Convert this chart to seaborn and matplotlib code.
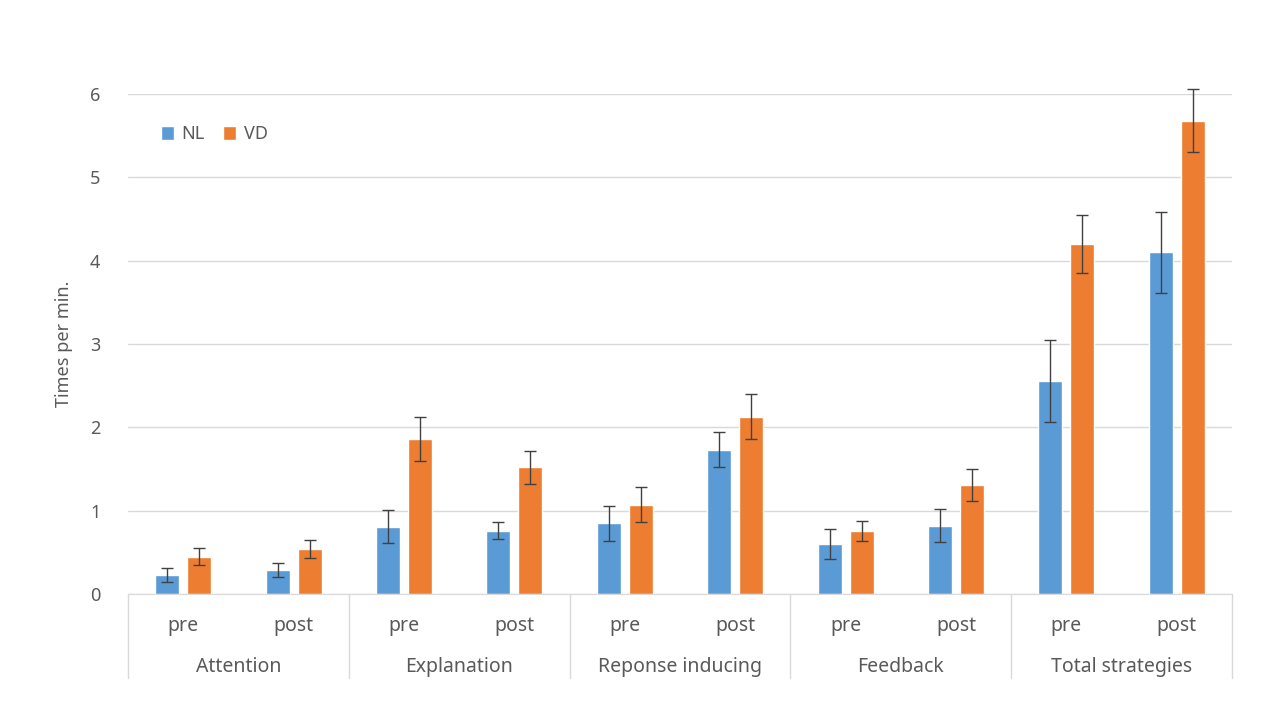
import numpy as np
import pandas as pd
import matplotlib
matplotlib.use("Agg")
import matplotlib.pyplot as plt
import matplotlib.transforms as mtransforms
import seaborn as sns

strategies = ["Attention", "Explanation", "Reponse inducing", "Feedback", "Total strategies"]
phases = ["pre", "post"]
groups = ["NL", "VD"]

nl_mean = [0.23, 0.29, 0.81, 0.76, 0.85, 1.73, 0.60, 0.82, 2.56, 4.10]
vd_mean = [0.45, 0.54, 1.86, 1.52, 1.07, 2.13, 0.76, 1.31, 4.20, 5.68]
nl_err = [0.08, 0.08, 0.20, 0.10, 0.21, 0.21, 0.18, 0.20, 0.49, 0.49]
vd_err = [0.10, 0.11, 0.26, 0.20, 0.21, 0.27, 0.12, 0.19, 0.35, 0.38]

colors = {"NL": "#5B9BD5", "VD": "#ED7D31"}
text_col = "#595959"
grid_col = "#D9D9D9"

# long table, one row per bar
slots = [f"{s}|{p}" for s in strategies for p in phases]
df = pd.DataFrame({
    "slot": slots * 2,
    "group": ["NL"] * len(slots) + ["VD"] * len(slots),
    "value": nl_mean + vd_mean,
    "err": nl_err + vd_err,
})

sns.set_style("white")
plt.rcParams["font.family"] = ["Noto Sans", "DejaVu Sans"]

fig = plt.figure(figsize=(12.8, 7.2), dpi=100)
ax = fig.add_axes([0.1, 0.175, 0.8625, 0.6944])

sns.barplot(data=df, x="slot", y="value", hue="group", order=slots,
            hue_order=groups, palette=colors, width=0.58, gap=0.25,
            errorbar=None, saturation=1, ax=ax)

# error bars at the bar centres seaborn placed
for cont, g in zip(ax.containers, groups):
    sub = df[df["group"] == g].set_index("slot").loc[slots]
    xs = [b.get_x() + b.get_width() / 2 for b in cont]
    ax.errorbar(xs, sub["value"], yerr=sub["err"], fmt="none",
                ecolor="#404040", elinewidth=1, capsize=4, capthick=1,
                clip_on=False, zorder=5)

ax.set_ylim(0, 6)
ax.set_xlim(-0.5, len(slots) - 0.5)
ax.set_yticks(range(7))
ax.yaxis.grid(True, color=grid_col, linewidth=1)
ax.set_axisbelow(True)
for side in ["top", "right", "left"]:
    ax.spines[side].set_visible(False)
ax.spines["bottom"].set_color(grid_col)

ax.tick_params(axis="y", length=0, pad=20, labelsize=13, labelcolor=text_col)
ax.set_xticks(range(len(slots)))
ax.set_xticklabels([s.split("|")[1] for s in slots])
ax.tick_params(axis="x", length=0, pad=16, labelsize=14, labelcolor=text_col)

ax.set_xlabel("")
ax.set_ylabel("Times per min.", fontsize=13, color=text_col, labelpad=12)

# second level of category labels and separators
trans = mtransforms.blended_transform_factory(ax.transData, ax.transAxes)
for i, s in enumerate(strategies):
    ax.text(2 * i + 0.5, -0.146, s, transform=trans, ha="center", va="center",
            fontsize=14, color=text_col)
for k in range(len(strategies) + 1):
    ax.plot([2 * k - 0.5, 2 * k - 0.5], [0, -0.168], transform=trans,
            color=grid_col, linewidth=1, clip_on=False)

ax.legend(loc="upper left", bbox_to_anchor=(0.015, 0.97), ncol=2, frameon=False,
          fontsize=13, handlelength=0.75, handleheight=0.75, handletextpad=0.4,
          columnspacing=1.0, labelcolor=text_col)

fig.savefig("out.png", dpi=100)
